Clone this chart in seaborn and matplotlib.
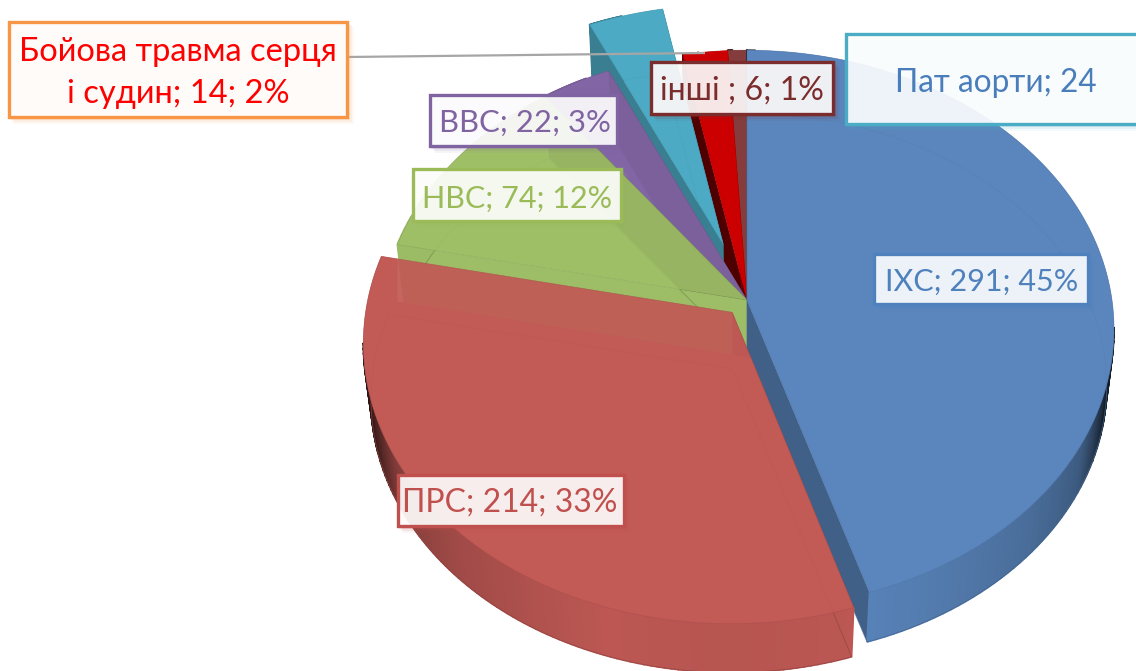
import numpy as np
import matplotlib
matplotlib.use("Agg")
import matplotlib.pyplot as plt
from matplotlib.path import Path
from matplotlib.patches import Polygon, Rectangle
from matplotlib.colors import to_rgb
import seaborn as sns

categories = ["ІХС", "ПРС", "НВС", "ВВС", "Пат аорти", "Бойова травма серця\nі судин", "інші "]
values = [291, 214, 74, 22, 24, 14, 6]
percents = [45, 33, 12, 3, None, 2, 1]
explode = [0, 0.06, 0, 0, 0.215, 0, 0]

sns.set_theme(style="white")
plt.rcParams["font.family"] = ["Lato", "Open Sans", "DejaVu Sans"]

face = sns.color_palette(["#5A86BD", "#C25A56", "#9FBF67", "#8265A5", "#4DAAC4", "#CC0000", "#843C3C"])
top_alpha = [0.88, 0.94, 0.88, 0.88, 0.88, 0.88, 0.88]
wall_first = [0.72, None, 0.55, 0.6, 0.74, 0.38, 0.6]
wall_last = [0.72, 0.72, 0.99, 0.95, 0.74, 0.38, 0.6]
first_wall_seen_through = [False, False, True, True, False, False, False]
rim_flat = [None, None, 0.98, 0.92, 0.74, 0.5, 0.6]
text_col = ["#4F81BD", "#C0504D", "#9BBB59", "#8064A2", "#4A7EBB", "#FF0000", "#7B2C2C"]
edge_col = ["#4F81BD", "#C0504D", "#9BBB59", "#8064A2", "#4BACC6", "#F79646", "#7B2C2C"]
boxes = [(874, 254, 1088, 304), (398, 475, 624, 526), (413, 169, 621, 221), (430, 95, 617, 146),
         (846, 34, 1160, 124), (9, 22, 347, 117), (651, 62, 833, 114)]
text_xy = [(982, 282), (510, 503), (517, 199), (525, 123), (996, 83), (178, 73), (742, 91)]
font_pt = [22, 23, 22, 22.3, 22.8, 23.5, 23]

CX, RX, K = 747.0, 365.0, 0.105


def project(x, y, lower=False):
    s = 1 / (1 + K * y)
    if lower:
        return CX + RX * 0.98 * x * s, 357 - 269 * y * s
    return CX + RX * x * s, 300 - 276 * y * s


def outline(w, n=120):
    t = np.radians(np.linspace(w.theta1, w.theta2, n))
    return w.center[0] + w.r * np.cos(t), w.center[1] + w.r * np.sin(t), t


fig = plt.figure(figsize=(11.36, 6.71), dpi=100)
ax = fig.add_axes([0, 0, 1, 1])
top, _ = ax.pie(values, explode=explode, startangle=90, counterclock=False, colors=face)
low, _ = ax.pie(values, explode=explode, startangle=90, counterclock=False, colors=face)
ax.set_aspect("auto")
ax.set_xlim(0, 1136)
ax.set_ylim(671, 0)
ax.axis("off")

order = [6, 5, 4, 3, 2, 0, 1]
green_line = None
for rank, i in enumerate(order):
    z = 10 + 10 * rank
    col = np.array(to_rgb(face[i]))
    wt, wl = top[i], low[i]
    ax_, ay_, t = outline(wt)
    cx0, cy0 = wt.center
    shaded = rim_flat[i] is None

    xt, yt = project(np.r_[cx0, ax_], np.r_[cy0, ay_])
    xl, yl = project(np.r_[cx0, ax_], np.r_[cy0, ay_], lower=True)
    top_poly = np.c_[np.r_[xt, xt[0]], np.r_[yt, yt[0]]]
    top_path = Path(top_poly, closed=True)

    # lower plane: only its outline shows through the top face
    wl._path = Path(np.c_[np.r_[xl, xl[0]], np.r_[yl, yl[0]]], closed=True)
    wl.set(facecolor="none", edgecolor=(*col * 0.75, 0.7), linewidth=0.7, zorder=z + 2.7)

    # radial walls
    for idx, k, through in ((1, wall_first[i], first_wall_seen_through[i]), (-1, wall_last[i], False)):
        if k is None:
            continue
        wall = Polygon([(xt[0], yt[0]), (xt[idx], yt[idx]), (xl[idx], yl[idx]), (xl[0], yl[0])],
                       closed=True, fc=col * k, ec="none", zorder=z + (2.6 if through else 1))
        ax.add_patch(wall)
        if through:
            wall.set_clip_path(top_path, ax.transData)

    # outer wall, shaded by direction; parts behind the top face are skipped
    clock = (90 - np.degrees(t)) % 360
    if shaded:
        shade = np.interp(np.abs(clock - 180), [0, 18, 45, 60, 68, 75, 180],
                          [0.94, 0.97, 0.82, 0.68, 0.42, 0.22, 0.22])
    else:
        shade = np.full(len(t), rim_flat[i])
    hidden = top_path.contains_points(np.c_[xl[1:], yl[1:]])
    for j in range(len(t) - 1):
        if hidden[j] and hidden[j + 1]:
            continue
        ax.add_patch(Polygon([(xt[j + 1], yt[j + 1]), (xt[j + 2], yt[j + 2]), (xl[j + 2], yl[j + 2]), (xl[j + 1], yl[j + 1])],
                             closed=True, fc=col * shade[j], ec=col * shade[j], lw=1.2, zorder=z + 2))

    # opaque backing of the top face (the red one stays see-through over the green wall)
    cover = Polygon(top_poly, closed=True, fc=col, ec="none", zorder=z + 2.5)
    ax.add_patch(cover)
    if i == 1:
        (x_a, y_a), (x_b, y_b) = green_line
        slope = (y_b - y_a) / (x_b - x_a)
        x_left = x_a - 7
        clip = Polygon([(0, 0), (x_left, 0), (x_left, y_a + slope * (x_left - x_a)),
                        (1136, y_a + slope * (1136 - x_a)), (1136, 671), (0, 671)],
                       closed=True, transform=ax.transData)
        cover.set_clip_path(clip)

    # top plane
    wt._path = top_path
    wt.set(facecolor=(*col, top_alpha[i]), edgecolor=(*col * 0.85, 0.6), linewidth=0.5, zorder=z + 3)

    if i == 2:
        green_line = ((xl[-1], yl[-1]), (xl[0], yl[0]))

ax.plot([347, 705], [57, 53], color="#A6A6A6", lw=1.6, zorder=99, solid_capstyle="butt")

for i, cat in enumerate(categories):
    x0, y0, x1, y1 = boxes[i]
    for off, a in ((6, 0.06), (4, 0.1), (2, 0.14)):
        ax.add_patch(Rectangle((x0 + off - 1, y0 + off - 1), x1 - x0 + 2, y1 - y0 + 2, fc=edge_col[i], ec="none", alpha=a, zorder=100))
    ax.add_patch(Rectangle((x0, y0), x1 - x0, y1 - y0, fc=(1, 1, 1, 0.9), ec=edge_col[i], lw=2.4, zorder=101))
    label = f"{cat}; {values[i]}" + (f"; {percents[i]}%" if percents[i] is not None else "")
    ax.text(*text_xy[i], label, color=text_col[i], ha="center", va="center", fontsize=font_pt[i],
            linespacing=1.5, zorder=102)

fig.savefig("out.png", dpi=100)
